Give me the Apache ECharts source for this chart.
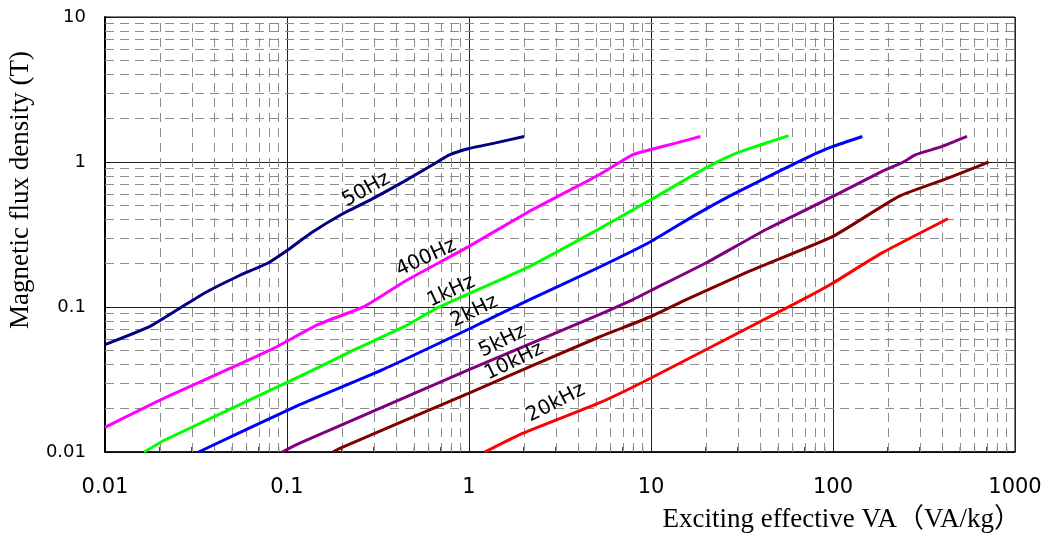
<!DOCTYPE html>
<html>
<head>
<meta charset="utf-8">
<script src="https://cdn.jsdelivr.net/npm/echarts@6/dist/echarts.min.js"></script>
<style>html,body{margin:0;padding:0;background:#fff;}#c{width:1051px;height:542px;}</style>
</head>
<body>
<div id="c"></div>
<script>
// ---- data ----
const seriesNames = ['50Hz', '400Hz', '1kHz', '2kHz', '5kHz', '10kHz', '20kHz'];
const seriesColors = ['#000080', '#ff00ff', '#00ff00', '#0000ff', '#800080', '#800000', '#ff0000'];

const x50 = [0.01, 0.0177, 0.0264, 0.0353, 0.0538, 0.0787, 0.1, 0.1355, 0.198, 0.289, 0.44, 0.67, 0.78, 1, 1.38, 2.01];
const y50 = [0.055, 0.0735, 0.1, 0.125, 0.163, 0.201, 0.245, 0.324, 0.433, 0.55, 0.735, 1.0, 1.12, 1.24, 1.35, 1.5];

const x400 = [0.01, 0.0213, 0.0818, 0.1476, 0.267, 0.443, 1, 2.14, 3.5, 5.19, 7.9, 9.77, 13.7, 18.7];
const y400 = [0.0148, 0.0236, 0.0508, 0.0755, 0.101, 0.15, 0.262, 0.456, 0.63, 0.817, 1.12, 1.21, 1.35, 1.5];

const x1k = [0.0164, 0.0213, 0.1175, 0.235, 0.443, 0.67, 2.14, 5.19, 10, 20, 28, 37.6, 57];
const y1k = [0.01, 0.0121, 0.0332, 0.0508, 0.0735, 0.0985, 0.19, 0.346, 0.55, 0.91, 1.12, 1.28, 1.52];

const x2k = [0.0327, 0.1175, 0.336, 1, 2.14, 5.19, 10, 16.9, 28, 52.7, 74, 100, 145];
const y2k = [0.01, 0.0212, 0.037, 0.0705, 0.112, 0.188, 0.283, 0.42, 0.595, 0.885, 1.09, 1.28, 1.5];

const x5k = [0.0942, 0.1175, 1, 5.19, 7.9, 10, 20, 42.6, 100, 186, 244, 283, 398, 545];
const y5k = [0.01, 0.0115, 0.037, 0.0885, 0.112, 0.13, 0.201, 0.341, 0.579, 0.861, 1.0, 1.12, 1.28, 1.5];

const x10k = [0.179, 0.195, 1, 5.19, 10, 15.5, 34.5, 100, 230, 432, 533, 716];
const y10k = [0.01, 0.0106, 0.0255, 0.0621, 0.086, 0.112, 0.176, 0.307, 0.579, 0.776, 0.861, 1.0];

const x20k = [1.22, 1.89, 5.19, 10, 67.6, 100, 186, 428];
const y20k = [0.01, 0.01315, 0.0218, 0.0324, 0.112, 0.1465, 0.236, 0.406];

const curveX = [x50, x400, x1k, x2k, x5k, x10k, x20k];
const curveY = [y50, y400, y1k, y2k, y5k, y10k, y20k];

// curve label positions (data coordinates) and rotation
const labelX = [0.273, 0.582, 0.798, 1.07, 1.53, 1.77, 3.0];
const labelY = [0.644, 0.218, 0.128, 0.0933, 0.058, 0.0421, 0.0218];
const labelRot = [29, 25, 25, 26, 26, 26, 27];

// axes
const xTickLabels = ['0.01', '0.1', '1', '10', '100', '1000'];
const yTickLabels = ['0.01', '0.1', '1', '10'];
const xDecades = [0.01, 0.1, 1, 10, 100];
const yDecades = [0.01, 0.1, 1];
const minorMult = [2, 3, 4, 5, 6, 7, 8, 9];

const xName = 'Exciting effective VA（VA/kg）';
const yName = 'Magnetic flux density (T)';

// ---- build ----
const minorXVals = [];
xDecades.forEach(d => minorMult.forEach(m => minorXVals.push(+(d * m).toPrecision(3))));
const minorYVals = [];
yDecades.forEach(d => minorMult.forEach(m => minorYVals.push(+(d * m).toPrecision(3))));

const fmt = (list) => (v) => {
  for (const s of list) { if (Math.abs(parseFloat(s) - v) / v < 1e-6) return s; }
  return '';
};

const series = [];
series.push({
  type: 'line', data: [], silent: true, z: 1,
  markLine: {
    silent: true, symbol: ['none', 'none'], animation: false,
    label: { show: false },
    lineStyle: { color: '#8c8c8c', width: 1, type: [9, 6] },
    data: minorXVals.map(v => ({ xAxis: v })).concat(minorYVals.map(v => ({ yAxis: v })))
  }
});
series.push({
  type: 'custom', silent: true, z: 2,
  data: minorXVals.map(v => [v, 0.01]),
  renderItem: function (params, api) {
    const p = api.coord([api.value(0), api.value(1)]);
    return { type: 'line', shape: { x1: p[0], y1: p[1], x2: p[0], y2: p[1] - 5 }, style: { stroke: '#000', lineWidth: 1 } };
  }
});
seriesNames.forEach((n, i) => {
  series.push({
    name: n, type: 'line', z: 5, showSymbol: false, symbol: 'none', smooth: 0.15,
    lineStyle: { color: seriesColors[i], width: 3 },
    itemStyle: { color: seriesColors[i] },
    data: curveX[i].map((x, k) => [x, curveY[i][k]])
  });
});
series.push({
  type: 'scatter', z: 6, symbolSize: 0, silent: true,
  data: seriesNames.map((n, i) => ({ name: n, value: [labelX[i], labelY[i]], label: { rotate: labelRot[i] } })),
  label: {
    show: true, position: 'inside', formatter: p => p.name,
    fontFamily: 'DejaVu Sans', fontSize: 20, color: '#000', opacity: 1
  }
});

const chart = echarts.init(document.getElementById('c'), null, { renderer: 'canvas' });
chart.setOption({
  animation: false,
  backgroundColor: '#fff',
  grid: { left: 105, right: 36, top: 17, bottom: 90, show: true, borderColor: '#000', borderWidth: 1, backgroundColor: 'transparent' },
  xAxis: {
    type: 'log', logBase: 10, min: 0.01, max: 1000, splitNumber: 5,
    axisLine: { show: true, lineStyle: { color: '#000', width: 1.5 } },
    axisTick: { show: false },
    splitLine: { show: true, lineStyle: { color: '#222', width: 1 } },
    axisLabel: { formatter: fmt(xTickLabels), fontFamily: 'DejaVu Sans', fontSize: 21, color: '#000', margin: 25 }
  },
  yAxis: {
    type: 'log', logBase: 10, min: 0.01, max: 10, splitNumber: 3,
    axisLine: { show: true, lineStyle: { color: '#000', width: 2 } },
    axisTick: { show: true, inside: true, length: 5, lineStyle: { color: '#000' } },
    splitLine: { show: true, lineStyle: { color: '#222', width: 1 } },
    axisLabel: { formatter: fmt(yTickLabels), fontFamily: 'DejaVu Sans', fontSize: 18, color: '#000', margin: 19 }
  },
  graphic: [
    { type: 'text', right: 30, top: 506, silent: true,
      style: { text: xName, font: '27px "Liberation Serif", "Noto Sans CJK JP", serif', fill: '#000' } },
    { type: 'text', x: 21, y: 190, rotation: Math.PI / 2, silent: true,
      style: { text: yName, font: '27px "Liberation Serif", serif', fill: '#000', align: 'center', verticalAlign: 'middle' } }
  ],
  series: series
});
</script>
</body>
</html>
